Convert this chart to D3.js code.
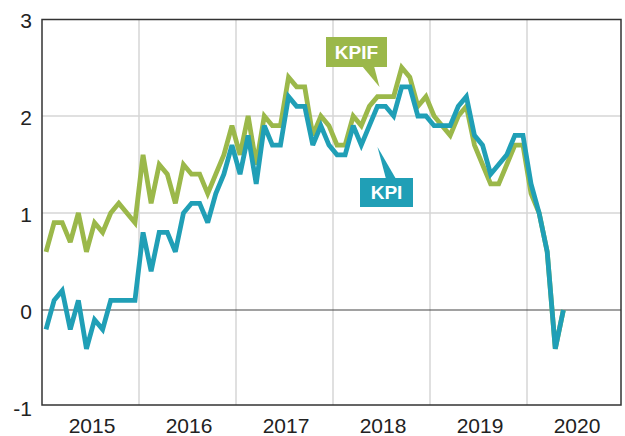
<!DOCTYPE html>
<html>
<head>
<meta charset="utf-8">
<script src="https://cdn.jsdelivr.net/npm/d3@7"></script>
<style>
  html, body { margin: 0; padding: 0; background: #fff; }
  svg { display: block; font-family: "Liberation Sans", Arial, Helvetica, sans-serif; }
</style>
</head>
<body>
<svg id="chart" width="625" height="436"></svg>
<script>
// ---- data (monthly, Jan 2015 .. May 2020) ----
const startYear = 2015;
const kpif = [
  0.6, 0.9, 0.9, 0.7, 1.0, 0.6, 0.9, 0.8, 1.0, 1.1, 1.0, 0.9,
  1.6, 1.1, 1.5, 1.4, 1.1, 1.5, 1.4, 1.4, 1.2, 1.4, 1.6, 1.9,
  1.6, 2.0, 1.5, 2.0, 1.9, 1.9, 2.4, 2.3, 2.3, 1.8, 2.0, 1.9,
  1.7, 1.7, 2.0, 1.9, 2.1, 2.2, 2.2, 2.2, 2.5, 2.4, 2.1, 2.2,
  2.0, 1.9, 1.8, 2.0, 2.1, 1.7, 1.5, 1.3, 1.3, 1.5, 1.7, 1.7,
  1.2, 1.0, 0.6, -0.4, 0.0
];
const kpi = [
  -0.2, 0.1, 0.2, -0.2, 0.1, -0.4, -0.1, -0.2, 0.1, 0.1, 0.1, 0.1,
  0.8, 0.4, 0.8, 0.8, 0.6, 1.0, 1.1, 1.1, 0.9, 1.2, 1.4, 1.7,
  1.4, 1.8, 1.3, 1.9, 1.7, 1.7, 2.2, 2.1, 2.1, 1.7, 1.9, 1.7,
  1.6, 1.6, 1.9, 1.7, 1.9, 2.1, 2.1, 2.0, 2.3, 2.3, 2.0, 2.0,
  1.9, 1.9, 1.9, 2.1, 2.2, 1.8, 1.7, 1.4, 1.5, 1.6, 1.8, 1.8,
  1.3, 1.0, 0.6, -0.4, 0.0
];
const yearLabels = ["2015", "2016", "2017", "2018", "2019", "2020"];
const yTicks = [-1, 0, 1, 2, 3];
const seriesNames = ["KPIF", "KPI"];

// ---- layout ----
const svg = d3.select("#chart");
const pLeft = 42, pRight = 621, pTop = 19.5, pBottom = 405;
const green = "#9bb84a", blue = "#209fb6";

// x in months since Jan 2015 (points at mid-month)
const x = d3.scaleLinear().domain([0, 72]).range([pLeft, pLeft + 97 * 6]);
const y = d3.scaleLinear().domain([-1, 3]).range([407, 19]);

const g = svg.append("g");
g.append("defs").append("clipPath").attr("id", "clip")
  .append("rect").attr("x", pLeft).attr("y", pTop).attr("width", pRight - pLeft).attr("height", pBottom - pTop);

// vertical grid (year boundaries)
const yearBounds = d3.range(1, yearLabels.length).map(i => i * 12);
g.selectAll(".vgrid").data(yearBounds).join("line")
  .attr("x1", d => x(d)).attr("x2", d => x(d))
  .attr("y1", pTop).attr("y2", pBottom)
  .attr("stroke", "#d6d6d6").attr("stroke-width", 1.5);

// horizontal grid
g.selectAll(".hgrid").data(yTicks.filter(v => v > -1 && v < 3 && v !== 0)).join("line")
  .attr("x1", pLeft).attr("x2", pRight)
  .attr("y1", d => y(d)).attr("y2", d => y(d))
  .attr("stroke", "#d6d6d6").attr("stroke-width", 1.5);

// zero line
g.append("line").attr("x1", pLeft).attr("x2", pRight)
  .attr("y1", y(0)).attr("y2", y(0))
  .attr("stroke", "#444").attr("stroke-width", 1.2);

// lines
const line = d3.line().x((d, i) => x(i + 0.5)).y(d => y(d));
const lg = g.append("g").attr("clip-path", "url(#clip)");
lg.append("path").datum(kpif).attr("d", line)
  .attr("fill", "none").attr("stroke", green).attr("stroke-width", 4.8)
  .attr("stroke-linejoin", "miter").attr("stroke-miterlimit", 3);
lg.append("path").datum(kpi).attr("d", line)
  .attr("fill", "none").attr("stroke", blue).attr("stroke-width", 4.8)
  .attr("stroke-linejoin", "miter").attr("stroke-miterlimit", 3);

// frame
g.append("rect").attr("x", pLeft).attr("y", pTop)
  .attr("width", pRight - pLeft).attr("height", pBottom - pTop)
  .attr("fill", "none").attr("stroke", "#333").attr("stroke-width", 1.5);

// y axis labels
const yAxis = d3.axisLeft(y).tickValues(yTicks).tickSize(0).tickPadding(0).tickFormat(d => String(d));
const ya = g.append("g").attr("transform", "translate(32,0)").call(yAxis);
ya.select(".domain").remove();
ya.selectAll("text").attr("font-size", 21).attr("fill", "#222")
  .attr("font-family", "'Liberation Sans', Arial, sans-serif")
  .attr("dy", "0.36em").attr("y", 1);

// x axis labels (centered in each year)
const xAxis = d3.axisBottom(x).tickValues(yearLabels.map((d, i) => i * 12 + 6))
  .tickSize(0).tickPadding(0).tickFormat((d, i) => yearLabels[i]);
const xa = g.append("g").attr("transform", "translate(1,418)").call(xAxis);
xa.select(".domain").remove();
xa.selectAll("text").attr("font-size", 21).attr("fill", "#222")
  .attr("font-family", "'Liberation Sans', Arial, sans-serif").attr("dy", "0.71em").attr("y", 0);

// labels with pointers
function callout(name, color, box, ptr) {
  g.append("path").attr("d", d3.line()(ptr) + "Z").attr("fill", color);
  g.append("rect").attr("x", box[0]).attr("y", box[1]).attr("width", box[2]).attr("height", box[3]).attr("fill", color);
  g.append("text").attr("x", box[0] + box[2] / 2).attr("y", box[1] + box[3] / 2)
    .attr("text-anchor", "middle").attr("dy", "0.36em")
    .attr("font-size", 19).attr("font-weight", "bold").attr("fill", "#fff")
    .text(name);
}
callout(seriesNames[0], green, [326, 37, 61, 30], [[362, 66], [374, 66], [379.5, 87]]);
callout(seriesNames[1], blue, [360, 178, 53, 29], [[386, 179], [396, 179], [377.5, 147]]);
</script>
</body>
</html>
